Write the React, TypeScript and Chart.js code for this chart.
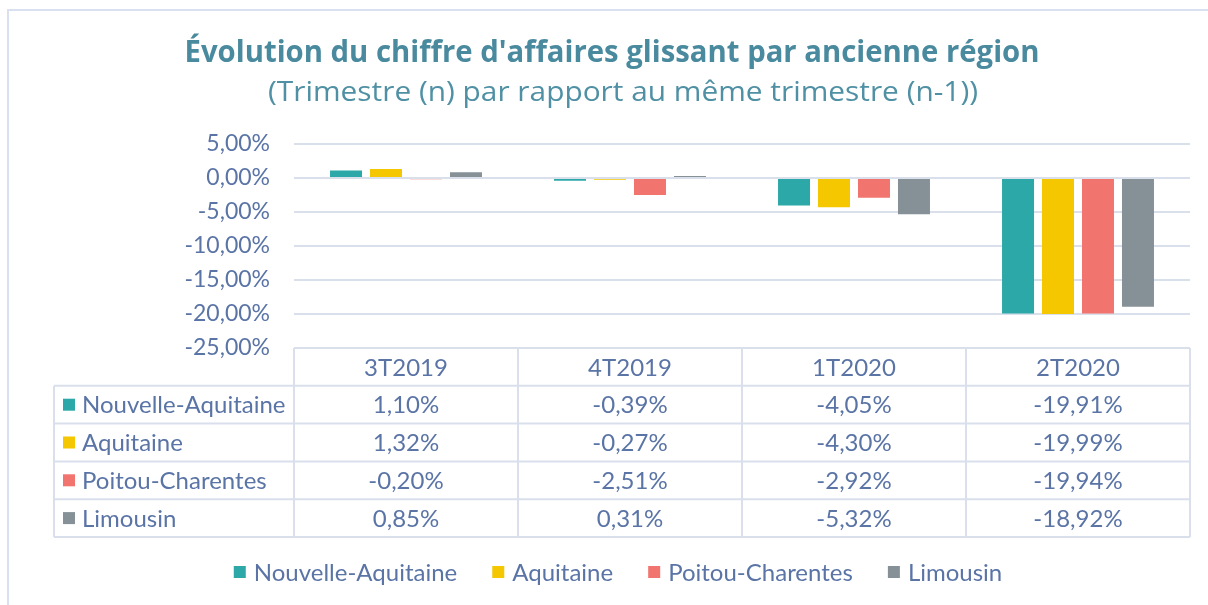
import React, { useEffect, useRef } from 'react';
import { Chart, registerables } from 'chart.js';

Chart.register(...registerables);

const titleText = "Évolution du chiffre d'affaires glissant par ancienne région";
const subtitleText = '(Trimestre (n) par rapport au même trimestre (n-1))';
const categories = ['3T2019', '4T2019', '1T2020', '2T2020'];
const seriesNames = ['Nouvelle-Aquitaine', 'Aquitaine', 'Poitou-Charentes', 'Limousin'];
const nouvelleAquitaine = [1.1, -0.39, -4.05, -19.91];
const aquitaine = [1.32, -0.27, -4.3, -19.99];
const poitouCharentes = [-0.2, -2.51, -2.92, -19.94];
const limousin = [0.85, 0.31, -5.32, -18.92];
const seriesColors = ['#2ca8a8', '#f4c700', '#f1756e', '#859196'];
const yMin = -25;
const yMax = 5;
const yStep = 5;

const TEXT = '#5a74a6';
const LINE = '#d9dfeb';
const FONT = 'Lato';
const FS = 24;
const TICK_FS = 23;

const fmt = (v: number) => v.toFixed(2).replace('.', ',') + '%';

function drawFitted(ctx: CanvasRenderingContext2D, text: string, font: string, color: string, cx: number, y: number, width: number) {
  ctx.save();
  ctx.font = font;
  const w = ctx.measureText(text).width;
  ctx.translate(cx, y);
  ctx.scale(width / w, 1);
  ctx.fillStyle = color;
  ctx.textAlign = 'center';
  ctx.textBaseline = 'alphabetic';
  ctx.fillText(text, 0, 0);
  ctx.restore();
}

const decor = {
  id: 'decor',
  beforeDraw(chart: any) {
    const ctx: CanvasRenderingContext2D = chart.ctx;
    ctx.save();
    ctx.fillStyle = '#ffffff';
    ctx.fillRect(0, 0, chart.width, chart.height);
    ctx.strokeStyle = '#d9e0ef';
    ctx.lineWidth = 2;
    ctx.strokeRect(8, 10, chart.width + 40, chart.height + 40);
    ctx.restore();
    drawFitted(ctx, titleText, 'bold 30px "Open Sans"', '#4a8a9f', 612, 62, 855);
    drawFitted(ctx, subtitleText, '28px "Open Sans"', '#4f90a4', 623, 101, 710);
  },
  afterDraw(chart: any) {
    const ctx: CanvasRenderingContext2D = chart.ctx;
    const { left, right, bottom } = chart.chartArea;
    const n = categories.length;
    const colW = (right - left) / n;
    const rowH = 37.8;
    const headTop = bottom;
    const headBot = headTop + rowH;
    const tableLeft = 54;
    const nRows = chart.data.datasets.length;
    const tableBottom = headBot + nRows * rowH;
    ctx.save();
    ctx.strokeStyle = LINE;
    ctx.lineWidth = 2;
    ctx.beginPath();
    ctx.moveTo(left, headTop);
    ctx.lineTo(right, headTop);
    for (let i = 0; i <= nRows; i++) {
      const y = headBot + i * rowH;
      ctx.moveTo(tableLeft, y);
      ctx.lineTo(right, y);
    }
    for (let j = 0; j <= n; j++) {
      const x = left + j * colW;
      ctx.moveTo(x, headTop);
      ctx.lineTo(x, tableBottom);
    }
    ctx.moveTo(tableLeft, headBot);
    ctx.lineTo(tableLeft, tableBottom);
    ctx.stroke();

    ctx.font = `${FS}px ${FONT}`;
    ctx.fillStyle = TEXT;
    ctx.textBaseline = 'middle';
    ctx.textAlign = 'center';
    categories.forEach((c, j) => {
      ctx.fillText(c, left + colW * (j + 0.5), headTop + rowH / 2 + 1);
    });
    chart.data.datasets.forEach((ds: any, i: number) => {
      const cy = headBot + rowH * (i + 0.5) + 1;
      ctx.fillStyle = ds.backgroundColor;
      ctx.fillRect(63, cy - 7, 12, 12);
      ctx.fillStyle = TEXT;
      ctx.textAlign = 'left';
      ctx.fillText(ds.label, 82, cy);
      ctx.textAlign = 'center';
      ds.data.forEach((v: number, j: number) => {
        ctx.fillText(fmt(v), left + colW * (j + 0.5), cy);
      });
    });

    // legend
    const gap = 35;
    const widths = chart.data.datasets.map((ds: any) => 12 + 8 + ctx.measureText(ds.label).width);
    const total = widths.reduce((a: number, b: number) => a + b, 0) + gap * (widths.length - 1);
    let x = 618 - total / 2;
    const ly = 573;
    ctx.textAlign = 'left';
    chart.data.datasets.forEach((ds: any, i: number) => {
      ctx.fillStyle = ds.backgroundColor;
      ctx.fillRect(x, ly - 7, 12, 12);
      ctx.fillStyle = TEXT;
      ctx.fillText(ds.label, x + 20, ly);
      x += widths[i] + gap;
    });
    ctx.restore();
  },
};

export default function App() {
  const ref = useRef<HTMLCanvasElement>(null);
  useEffect(() => {
    document.body.style.margin = '0';
    let chart: Chart | null = null;
    let cancelled = false;
    const build = () => {
      if (cancelled || !ref.current) return;
      const data = [nouvelleAquitaine, aquitaine, poitouCharentes, limousin];
      chart = new Chart(ref.current, {
        type: 'bar',
        data: {
          labels: categories,
          datasets: seriesNames.map((name, i) => ({
            label: name,
            data: data[i],
            backgroundColor: seriesColors[i],
            categoryPercentage: 0.714,
            barPercentage: 0.8,
          })),
        },
        options: {
          responsive: false,
          animation: false,
          layout: { padding: { top: 144, bottom: 257, left: 0, right: 18 } },
          plugins: {
            legend: { display: false },
            title: { display: false },
            tooltip: { enabled: false },
          },
          scales: {
            x: { display: false },
            y: {
              min: yMin,
              max: yMax,
              ticks: {
                stepSize: yStep,
                callback: (v: any) => fmt(Number(v)),
                color: TEXT,
                font: { family: FONT, size: TICK_FS },
                padding: 24,
              },
              grid: { color: LINE, lineWidth: 2, drawTicks: false },
              border: { display: false },
              afterFit: (s: any) => {
                s.width = 294;
              },
            },
          },
        },
        plugins: [decor],
      } as any);
    };
    const fonts = (document as any).fonts;
    if (fonts && fonts.load) {
      Promise.all([
        fonts.load(`${FS}px ${FONT}`),
        fonts.load('bold 30px "Open Sans"'),
        fonts.load('28px "Open Sans"'),
      ]).then(build, build);
    } else {
      build();
    }
    return () => {
      cancelled = true;
      if (chart) chart.destroy();
    };
  }, []);
  return (
    <div style={{ width: 1208, height: 605 }}>
      <canvas ref={ref} width={1208} height={605} style={{ display: 'block' }} />
    </div>
  );
}
